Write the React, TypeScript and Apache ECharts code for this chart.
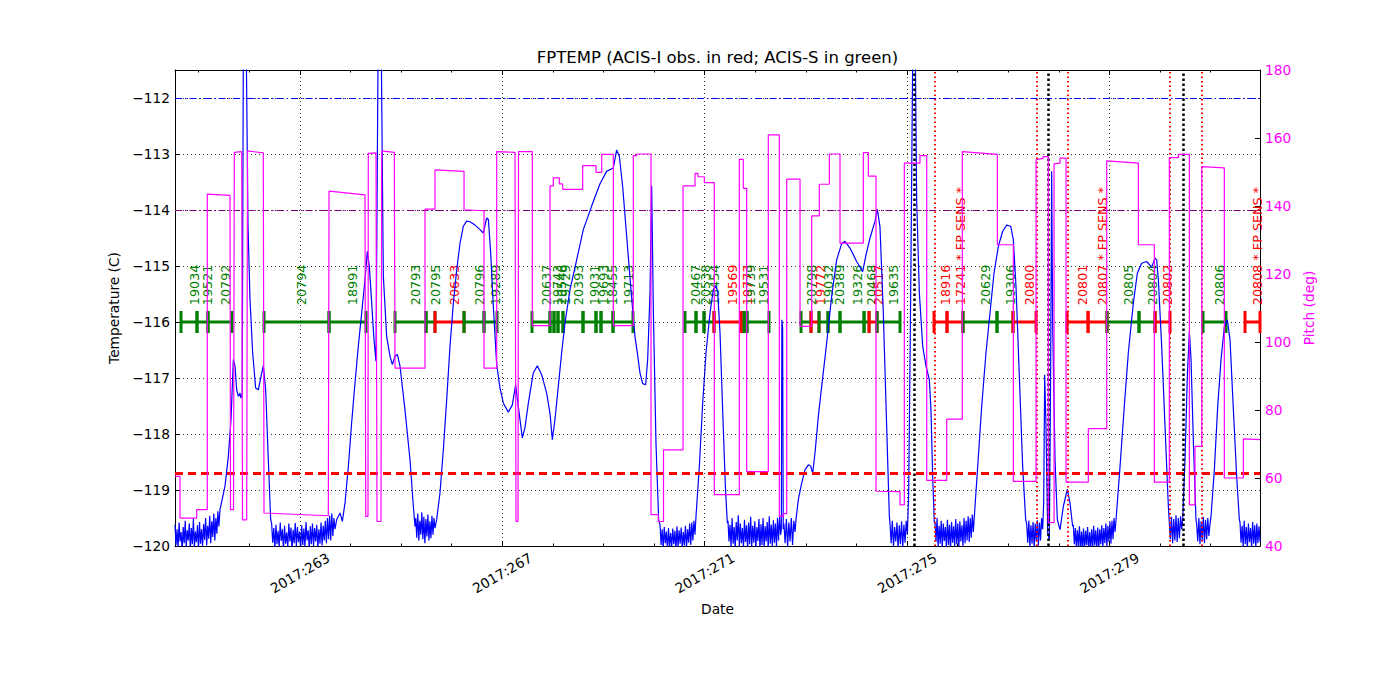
import React, { useEffect, useRef } from 'react';
import * as echarts from 'echarts';

const FONT = 'DejaVu Sans';
const BLUE = '#0000ff';
const MAGENTA = '#ff00ff';
const GREEN = '#008000';
const RED = '#ff0000';
const PURPLE = '#800080';

const X_MIN = 260.532;
const X_MAX = 281.974;
const majorDays = [263, 267, 271, 275, 279];
const minorDays = [261, 262, 264, 265, 266, 268, 269, 270, 272, 273, 274, 276, 277, 278, 280, 281];

// reference levels (deg C)
const hLevels = [-112, -114, -118.7];
const OBS_LEVEL = -116;
const LABEL_LEVEL = -115.7;

// vertical markers (day of year)
const blackLines = [275.143, 277.791, 280.447];
const redLines = [275.538, 277.562, 278.174, 280.196, 280.834];

// observations
const obsIds = ['19034','19521','20792','20794','18991','20793','20795','20633','20796','19289','20637','19743','20546','19729','20393','19031','19693','18455','19713','20467','20538','18454','19569','19773','19739','19531','20798','19772','19032','20389','19326','20468','20517','19635','18916','17241 * FP SENS *','20629','19306','20800','20801','20807 * FP SENS *','20805','20804','20802','20806','20808 * FP SENS *'];
const obsInst = ['S','S','S','S','S','S','S','I','S','S','S','S','S','S','S','S','S','S','S','S','S','S','I','I','S','S','S','I','S','S','S','S','I','S','I','I','S','S','I','I','I','S','S','I','S','I'];
const obsStart = [260.651,260.967,261.184,262.291,263.576,264.880,265.493,265.670,266.244,266.639,267.587,267.943,268.022,268.101,268.200,268.595,268.852,268.951,269.188,270.611,270.828,270.987,271.184,271.718,271.777,271.836,272.904,273.101,273.259,273.437,273.674,274.149,274.248,274.406,275.532,275.789,276.105,276.777,277.093,278.161,278.576,278.951,279.583,279.900,280.848,281.678];
const obsEnd = [260.967,261.184,261.659,263.576,264.307,265.493,265.670,266.244,266.639,266.896,267.943,268.022,268.101,268.200,268.595,268.852,268.951,269.188,269.583,270.828,270.987,271.184,271.718,271.777,271.836,272.271,273.101,273.259,273.437,273.674,274.149,274.248,274.406,274.860,275.789,276.105,276.777,277.093,277.548,278.576,278.951,279.583,279.900,280.196,281.303,281.974];

// pitch (deg) step trace
const pitch = [[260.532,60.5],[260.631,60.5],[260.631,48.2],[260.961,48.2],[260.961,50.7],[261.170,50.7],[261.170,143.5],[261.619,143.1],[261.629,50.7],[261.688,50.7],[261.704,155.8],[261.850,156.0],[261.866,47.7],[261.949,47.7],[261.965,156.2],[262.277,155.6],[262.291,49.7],[263.562,48.9],[263.576,144.4],[264.287,143.3],[264.301,48.7],[264.346,48.7],[264.352,155.5],[264.504,155.6],[264.524,47.2],[264.603,47.2],[264.617,156.2],[264.866,155.8],[264.880,92.3],[265.473,92.3],[265.473,139.1],[265.670,139.1],[265.670,150.6],[266.244,150.2],[266.244,138.9],[266.639,138.6],[266.639,92.3],[266.890,92.3],[266.890,156.0],[267.251,155.8],[267.271,47.2],[267.311,47.2],[267.321,156.0],[267.593,156.0],[267.593,104.8],[267.943,104.8],[267.943,145.9],[268.008,145.9],[268.008,148.3],[268.127,148.3],[268.127,146.5],[268.194,146.5],[268.194,144.9],[268.589,144.9],[268.589,151.9],[268.852,151.9],[268.852,149.9],[268.965,149.9],[268.965,155.2],[269.194,155.2],[269.194,104.8],[269.589,104.8],[269.589,154.8],[269.657,154.8],[269.657,155.3],[269.939,155.3],[269.939,49.2],[270.083,49.2],[270.083,47.2],[270.186,47.2],[270.186,68.3],[270.572,68.3],[270.572,145.9],[270.809,145.9],[270.809,149.6],[270.868,149.6],[270.868,148.6],[270.993,148.6],[270.993,146.9],[271.190,146.9],[271.190,55.1],[271.684,55.1],[271.684,153.7],[271.763,153.7],[271.763,145.2],[271.830,145.2],[271.830,61.9],[272.257,61.9],[272.257,160.9],[272.475,160.9],[272.475,48.7],[272.548,48.7],[272.548,49.5],[272.621,49.5],[272.621,147.9],[272.884,147.9],[272.884,104.6],[273.115,104.6],[273.115,137.1],[273.265,137.1],[273.265,146.4],[273.463,146.4],[273.463,155.3],[273.674,155.3],[273.674,129.1],[274.135,129.1],[274.135,155.7],[274.234,155.7],[274.234,148.8],[274.386,148.8],[274.386,56.1],[274.860,56.0],[274.860,52.1],[274.945,52.1],[274.945,152.6],[275.255,152.6],[275.255,154.8],[275.388,154.8],[275.388,59.3],[275.783,59.3],[275.783,77.3],[276.091,77.3],[276.091,156.0],[276.783,155.2],[276.783,128.6],[277.099,128.6],[277.099,59.0],[277.548,59.0],[277.548,153.6],[277.686,154.0],[277.686,154.5],[277.791,154.5],[277.791,46.9],[277.904,46.9],[277.904,152.4],[278.022,152.6],[278.022,154.1],[278.141,154.1],[278.141,58.8],[278.581,58.8],[278.581,74.5],[278.945,74.5],[278.945,153.3],[279.570,152.6],[279.570,128.6],[279.886,128.6],[279.886,58.8],[280.182,58.8],[280.182,154.2],[280.360,154.2],[280.360,155.2],[280.578,155.2],[280.578,52.1],[280.690,52.1],[280.690,69.3],[280.823,69.3],[280.823,151.6],[281.269,151.2],[281.269,60.0],[281.645,60.0],[281.645,71.5],[281.975,71.3]];

// temperature: smooth stretches [day, degC]
const tS1 = [[261.421,-119.35],[261.520,-118.93],[261.586,-118.40],[261.639,-117.74],[261.685,-116.67],[261.718,-116.79],[261.751,-117.21],[261.784,-117.33],[261.817,-117.27],[261.836,-117.36],[261.860,-117.30],[261.882,-111.3],[261.942,-111.3],[261.975,-114.29],[262.014,-115.60],[262.067,-116.55],[262.126,-117.18],[262.179,-117.21],[262.232,-116.97],[262.278,-116.78],[262.324,-117.21],[262.376,-118.46],[262.423,-119.53]];
const tS2 = [[263.727,-119.53],[263.793,-119.41],[263.839,-119.56],[263.892,-119.23],[263.958,-118.58],[264.023,-117.80],[264.089,-117.09],[264.155,-116.43],[264.221,-115.84],[264.287,-115.24],[264.333,-114.74],[264.373,-115.01],[264.419,-115.66],[264.465,-116.32],[264.504,-116.70],[264.544,-111.3],[264.610,-111.3],[264.649,-115.18],[264.715,-116.26],[264.781,-116.61],[264.827,-116.76],[264.880,-116.61],[264.926,-116.58],[264.979,-116.79],[265.077,-117.57],[265.176,-118.46],[265.242,-119.29],[265.275,-119.65]];
const tS3 = [[265.703,-119.53],[265.769,-119.05],[265.835,-118.28],[265.901,-117.39],[265.967,-116.43],[266.033,-115.66],[266.099,-115.07],[266.165,-114.59],[266.230,-114.29],[266.296,-114.20],[266.362,-114.21],[266.461,-114.27],[266.560,-114.35],[266.626,-114.41],[266.692,-114.14],[266.725,-114.17],[266.771,-114.77],[266.823,-115.72],[266.889,-116.76],[266.955,-117.18],[267.021,-117.45],[267.120,-117.61],[267.199,-117.48],[267.264,-117.12],[267.317,-117.51],[267.396,-118.07],[267.449,-117.88],[267.515,-117.45],[267.613,-116.91],[267.692,-116.78],[267.778,-116.94],[267.877,-117.27],[267.943,-117.63],[267.989,-118.10],[268.041,-117.74],[268.107,-117.15],[268.173,-116.55],[268.239,-116.02],[268.338,-115.42],[268.470,-114.89],[268.601,-114.35],[268.766,-113.93],[268.931,-113.53],[269.062,-113.31],[269.194,-113.25],[269.260,-112.93],[269.313,-113.04],[269.379,-113.58],[269.458,-114.47],[269.537,-115.36],[269.622,-116.26],[269.669,-116.55],[269.721,-116.91],[269.774,-117.10],[269.833,-117.12],[269.873,-116.67],[269.919,-115.48],[269.952,-113.57],[269.985,-115.78],[270.037,-118.16],[270.090,-119.53]];
const tS4 = [[270.828,-119.47],[270.894,-118.58],[270.960,-117.45],[271.026,-116.55],[271.105,-115.84],[271.171,-115.42],[271.217,-115.35],[271.256,-115.45],[271.303,-116.20],[271.355,-117.57],[271.408,-118.93],[271.447,-119.59]];
const tSpike = [[272.515,-119.7],[272.525,-115.96],[272.540,-116.1],[272.552,-119.7]];
const tS5 = [[272.804,-119.53],[272.850,-119.17],[272.916,-118.88],[272.982,-118.64],[273.048,-118.55],[273.094,-118.57],[273.134,-118.70],[273.180,-118.34],[273.246,-117.68],[273.312,-117.15],[273.410,-116.38],[273.509,-115.54],[273.608,-114.89],[273.707,-114.60],[273.773,-114.56],[273.871,-114.68],[274.003,-114.92],[274.122,-115.10],[274.188,-114.80],[274.267,-114.50],[274.366,-114.20],[274.412,-113.99],[274.464,-114.30],[274.530,-115.84],[274.596,-117.86],[274.649,-119.47]];
const tS6 = [[275.031,-119.05],[275.071,-115.48],[275.110,-111.3],[275.163,-111.3],[275.189,-113.82],[275.242,-115.48],[275.308,-116.43],[275.374,-116.79],[275.439,-117.03],[275.472,-117.57],[275.505,-118.76],[275.538,-119.59]];
const tS7 = [[276.329,-119.47],[276.395,-118.58],[276.474,-117.51],[276.559,-116.55],[276.638,-115.84],[276.717,-115.13],[276.803,-114.65],[276.889,-114.38],[276.968,-114.27],[277.047,-114.29],[277.099,-114.53],[277.152,-115.36],[277.218,-116.97],[277.284,-118.58],[277.343,-119.53]];
const tS8 = [[277.699,-119.23],[277.719,-116.94],[277.745,-117.86],[277.778,-119.77],[277.811,-119.89],[277.838,-116.67],[277.857,-113.31],[277.877,-116.08],[277.923,-118.46],[277.969,-119.53],[278.022,-119.71],[278.088,-119.29],[278.167,-118.99],[278.219,-119.23],[278.272,-119.65]];
const tS9 = [[279.129,-119.53],[279.208,-118.58],[279.287,-117.57],[279.372,-116.55],[279.471,-115.66],[279.550,-115.13],[279.636,-114.95],[279.734,-114.92],[279.833,-115.02],[279.899,-114.86],[279.932,-114.89],[279.965,-115.24],[280.031,-116.43],[280.097,-117.86],[280.163,-119.29]];
const tS10 = [[280.446,-119.53],[280.492,-118.46],[280.538,-116.97],[280.578,-116.17],[280.611,-116.67],[280.658,-118.16],[280.709,-119.53]];
const tS11 = [[281.006,-119.47],[281.072,-118.64],[281.138,-117.51],[281.204,-116.67],[281.270,-116.08],[281.329,-115.96],[281.382,-116.32],[281.448,-117.57],[281.513,-118.76],[281.566,-119.53]];

// temperature: noisy cold stretches, evenly sampled between from/to
const tN1 = { from: 260.532, to: 261.40, v: [-119.62,-119.98,-119.7,-120.05,-119.58,-119.92,-119.75,-120.08,-119.66,-119.95,-119.55,-120.02,-119.72,-119.9,-119.6,-120.06,-119.68,-119.97,-119.52,-120.03,-119.74,-119.93,-119.63,-120.07,-119.57,-119.96,-119.7,-120.01,-119.61,-119.89,-119.5,-119.99,-119.64,-119.87,-119.46,-119.95,-119.56,-119.84,-119.42,-119.9,-119.5,-119.78,-119.38,-119.65] };
const tN2 = { from: 262.442, to: 263.694, v: [-119.6,-119.94,-119.68,-120.05,-119.62,-119.97,-119.73,-120.02,-119.58,-119.91,-119.7,-120.07,-119.64,-119.96,-119.76,-120.03,-119.6,-119.92,-119.67,-120.08,-119.71,-119.95,-119.59,-120.01,-119.66,-119.93,-119.74,-120.06,-119.63,-119.98,-119.69,-120.02,-119.57,-119.9,-119.72,-120.04,-119.65,-119.97,-119.6,-120.0,-119.68,-119.92,-119.62,-120.05,-119.7,-119.96,-119.58,-119.99,-119.64,-119.9,-119.55,-119.95,-119.5,-119.88,-119.46,-119.9,-119.42,-119.82,-119.5,-119.7] };
const tN3 = { from: 265.29, to: 265.67, v: [-119.5,-119.85,-119.42,-119.9,-119.55,-119.8,-119.4,-119.88,-119.48,-119.95,-119.52,-119.83,-119.44,-119.9,-119.56,-119.86,-119.46,-119.8,-119.5,-119.68] };
const tN4 = { from: 270.117, to: 270.808, v: [-119.62,-119.98,-119.7,-120.05,-119.66,-119.95,-119.74,-120.07,-119.68,-120.0,-119.77,-120.04,-119.69,-119.97,-119.73,-120.08,-119.65,-120.02,-119.72,-119.96,-119.67,-120.05,-119.75,-119.99,-119.64,-120.03,-119.7,-119.94,-119.6,-119.98,-119.58,-119.9,-119.55,-119.8] };
const tN5 = { from: 271.46, to: 272.50, v: [-119.55,-119.92,-119.62,-120.03,-119.5,-119.96,-119.66,-120.06,-119.57,-119.9,-119.45,-120.01,-119.6,-119.95,-119.68,-120.05,-119.53,-119.93,-119.63,-120.07,-119.58,-119.97,-119.48,-120.02,-119.64,-119.94,-119.56,-120.04,-119.66,-119.91,-119.52,-120.06,-119.61,-119.98,-119.5,-120.03,-119.65,-119.92,-119.57,-120.05,-119.47,-119.96,-119.62,-120.01,-119.54,-119.94,-119.6,-120.02,-119.5,-119.9,-119.48,-119.8] };
const tN5b = { from: 272.565, to: 272.785, v: [-119.6,-119.95,-119.52,-120.02,-119.58,-119.92,-119.5,-119.98,-119.55,-119.75] };
const tN6 = { from: 274.662, to: 275.005, v: [-119.6,-119.95,-119.55,-120.03,-119.66,-119.92,-119.58,-120.05,-119.63,-119.97,-119.56,-120.02,-119.62,-119.94,-119.55,-119.8] };
const tN7 = { from: 275.551, to: 276.309, v: [-119.58,-119.93,-119.5,-120.02,-119.64,-119.96,-119.55,-120.05,-119.6,-119.91,-119.66,-120.04,-119.53,-119.98,-119.62,-120.06,-119.57,-119.94,-119.65,-120.01,-119.52,-119.97,-119.6,-120.04,-119.56,-119.92,-119.63,-120.0,-119.5,-119.95,-119.55,-119.9,-119.47,-119.93,-119.5,-119.85,-119.44,-119.75] };
const tN8 = { from: 277.363, to: 277.679, v: [-119.6,-119.94,-119.55,-120.02,-119.63,-119.96,-119.57,-120.04,-119.6,-119.92,-119.54,-119.99,-119.58,-119.9,-119.5,-119.7] };
const tN9 = { from: 278.285, to: 279.109, v: [-119.62,-119.97,-119.68,-120.05,-119.72,-120.0,-119.65,-120.07,-119.74,-120.03,-119.69,-120.08,-119.73,-119.98,-119.66,-120.06,-119.75,-120.02,-119.7,-120.07,-119.64,-119.99,-119.72,-120.04,-119.67,-120.06,-119.7,-119.97,-119.63,-120.03,-119.68,-119.95,-119.6,-120.01,-119.64,-119.93,-119.57,-119.96,-119.55,-119.88,-119.5,-119.75] };
const tN10 = { from: 280.18, to: 280.426, v: [-119.55,-119.88,-119.48,-119.95,-119.52,-119.9,-119.45,-119.93,-119.5,-119.86,-119.47,-119.7] };
const tN11 = { from: 280.722, to: 280.986, v: [-119.6,-119.92,-119.5,-119.97,-119.56,-119.9,-119.48,-119.95,-119.53,-119.88,-119.5,-119.82,-119.6] };
const tN12 = { from: 281.579, to: 281.974, v: [-119.58,-119.94,-119.64,-120.02,-119.55,-119.97,-119.66,-120.05,-119.6,-119.93,-119.68,-120.03,-119.57,-119.96,-119.63,-120.04,-119.6,-119.95,-119.65,-119.92] };

const tempPieces: any[] = [tN1, tS1, tN2, tS2, tN3, tS3, tN4, tS4, tN5, tSpike, tN5b, tS5, tN6, tS6, tN7, tS7, tN8, tS8, tN9, tS9, tN10, tS10, tN11, tS11, tN12];

function buildTemp(): number[][] {
  const out: number[][] = [];
  for (const p of tempPieces) {
    if (Array.isArray(p)) {
      for (const pt of p) out.push(pt);
    } else {
      const n = p.v.length;
      const step = (p.to - p.from) / (n - 1);
      p.v.forEach((val: number, i: number) => out.push([p.from + i * step, val]));
    }
  }
  return out;
}

const minus = (v: number) => (v < 0 ? '\u2212' + Math.abs(v) : String(v));

export default function App() {
  const ref = useRef<HTMLDivElement>(null);
  useEffect(() => {
    if (!ref.current) return;
    const chart = echarts.init(ref.current, undefined, { renderer: 'svg' });
    const tickFont = { fontFamily: FONT, fontSize: 13.75, color: '#000' };
    const obsData = obsIds.map((_, i) => [obsStart[i], obsEnd[i], OBS_LEVEL, obsInst[i] === 'I' ? 1 : 0, i]);
    const baseX = {
      type: 'value', min: X_MIN, max: X_MAX, gridIndex: 0,
      splitLine: { show: false },
    };
    const option: any = {
      animation: false,
      backgroundColor: '#ffffff',
      textStyle: { fontFamily: FONT },
      grid: { left: 175, top: 70, width: 1085, height: 476 },
      graphic: [
        {
          type: 'text', x: 717.5, y: 57, z: 100,
          style: {
            text: 'FPTEMP (ACIS-I obs. in red; ACIS-S in green)',
            font: '16.5px "DejaVu Sans"', fill: '#000',
            align: 'center', verticalAlign: 'middle', textAlign: 'center', textVerticalAlign: 'middle',
          },
        },
      ],
      xAxis: [
        {
          ...baseX, position: 'bottom',
          axisLine: { show: true, onZero: false, lineStyle: { color: '#000', width: 1 } },
          axisTick: { show: true, inside: true, length: 5, customValues: majorDays, lineStyle: { color: '#000' } },
          axisLabel: {
            show: true, customValues: majorDays, formatter: (v: number) => '2017:' + Math.round(v),
            rotate: 30, align: 'center', verticalAlign: 'middle', margin: 27, ...tickFont,
          },
          name: 'Date', nameLocation: 'middle', nameGap: 55,
          nameTextStyle: { fontFamily: FONT, fontSize: 13.75, color: '#000' },
        },
        {
          ...baseX, position: 'bottom',
          axisLine: { show: false, onZero: false },
          axisTick: { show: true, inside: true, length: 2.5, customValues: minorDays, lineStyle: { color: '#000' } },
          axisLabel: { show: false },
        },
        {
          ...baseX, position: 'top',
          axisLine: { show: true, onZero: false, lineStyle: { color: '#000', width: 1 } },
          axisTick: { show: true, inside: true, length: 5, customValues: majorDays, lineStyle: { color: '#000' } },
          axisLabel: { show: false },
        },
        {
          ...baseX, position: 'top',
          axisLine: { show: false, onZero: false },
          axisTick: { show: true, inside: true, length: 2.5, customValues: minorDays, lineStyle: { color: '#000' } },
          axisLabel: { show: false },
        },
      ],
      yAxis: [
        {
          type: 'value', position: 'left', min: -120, max: -111.5, interval: 1,
          axisLine: { show: true, onZero: false, lineStyle: { color: '#000', width: 1 } },
          axisTick: { show: true, inside: true, length: 5, lineStyle: { color: '#000' } },
          axisLabel: { margin: 5, formatter: (v: number) => (Number.isInteger(v) ? minus(v) : ''), ...tickFont },
          splitLine: { show: true, lineStyle: { color: '#000', width: 0.8, type: [1, 3] } },
          name: 'Temperature (C)', nameLocation: 'middle', nameGap: 49,
          nameTextStyle: { fontFamily: FONT, fontSize: 13.75, color: '#000' },
        },
        {
          type: 'value', position: 'right', min: 40, max: 180, interval: 20,
          axisLine: { show: true, onZero: false, lineStyle: { color: '#000', width: 1 } },
          axisTick: { show: true, inside: true, length: 5, lineStyle: { color: '#000' } },
          axisLabel: { margin: 5, ...tickFont, color: MAGENTA },
          splitLine: { show: false },
          name: 'Pitch (deg)', nameLocation: 'middle', nameGap: 36,
          nameTextStyle: { fontFamily: FONT, fontSize: 13.75, color: MAGENTA },
        },
      ],
      series: [
        {
          type: 'line', data: [], xAxisIndex: 0, yAxisIndex: 0, z: 0, silent: true,
          markLine: {
            silent: true, symbol: ['none', 'none'], label: { show: false },
            data: [
              ...majorDays.map((d) => ({ xAxis: d, lineStyle: { color: '#000', width: 0.8, type: [1, 3] } })),
              { yAxis: hLevels[0], lineStyle: { color: BLUE, width: 1, type: [7, 3, 1.5, 3] } },
              { yAxis: hLevels[1], lineStyle: { color: PURPLE, width: 1, type: [7, 3, 1.5, 3] } },
              { yAxis: hLevels[2], lineStyle: { color: RED, width: 3, type: [8, 5] } },
            ],
          },
        },
        {
          type: 'custom', xAxisIndex: 0, yAxisIndex: 0, z: 2, clip: false, silent: true,
          encode: { x: [0, 1], y: 2 },
          data: obsData,
          renderItem: (params: any, api: any) => {
            const s = api.value(0), e = api.value(1), ci = api.value(3), li = api.value(4);
            const p1 = api.coord([s, OBS_LEVEL]);
            const p2 = api.coord([e, OBS_LEVEL]);
            const pl = api.coord([s, LABEL_LEVEL]);
            const color = ci === 1 ? RED : GREEN;
            return {
              type: 'group',
              children: [
                { type: 'line', shape: { x1: p1[0], y1: p1[1], x2: p2[0], y2: p2[1] }, style: { stroke: color, lineWidth: 3 } },
                { type: 'rect', shape: { x: p1[0] - 1.5, y: p1[1] - 11, width: 3, height: 22 }, style: { fill: color } },
                { type: 'rect', shape: { x: p2[0] - 1.5, y: p2[1] - 11, width: 3, height: 22 }, style: { fill: color } },
                {
                  type: 'text', x: (p1[0] + p2[0]) / 2 + 5, y: pl[1], rotation: Math.PI / 2,
                  style: {
                    text: obsIds[li], fill: color, font: '12.75px "DejaVu Sans"',
                    align: 'left', verticalAlign: 'middle', textAlign: 'left', textVerticalAlign: 'middle',
                  },
                },
              ],
            };
          },
        },
        {
          type: 'line', name: 'FPTEMP', data: buildTemp(), xAxisIndex: 0, yAxisIndex: 0, z: 3,
          showSymbol: false, symbol: 'none', silent: true,
          lineStyle: { color: BLUE, width: 1.2 },
        },
        {
          type: 'line', data: [], xAxisIndex: 0, yAxisIndex: 0, z: 4, silent: true,
          markLine: {
            silent: true, symbol: ['none', 'none'], label: { show: false },
            data: [
              ...redLines.map((d) => ({ xAxis: d, lineStyle: { color: RED, width: 2, type: [1.5, 3] } })),
              ...blackLines.map((d) => ({ xAxis: d, lineStyle: { color: '#000', width: 2.5, type: [2.5, 2.5] } })),
            ],
          },
        },
        {
          type: 'line', name: 'Pitch', data: pitch, xAxisIndex: 0, yAxisIndex: 1, z: 5,
          showSymbol: false, symbol: 'none', silent: true,
          lineStyle: { color: MAGENTA, width: 1.2 },
        },
      ],
    };
    chart.setOption(option);
    return () => chart.dispose();
  }, []);
  return <div ref={ref} style={{ position: 'absolute', left: 0, top: 0, width: 1400, height: 700 }} />;
}
